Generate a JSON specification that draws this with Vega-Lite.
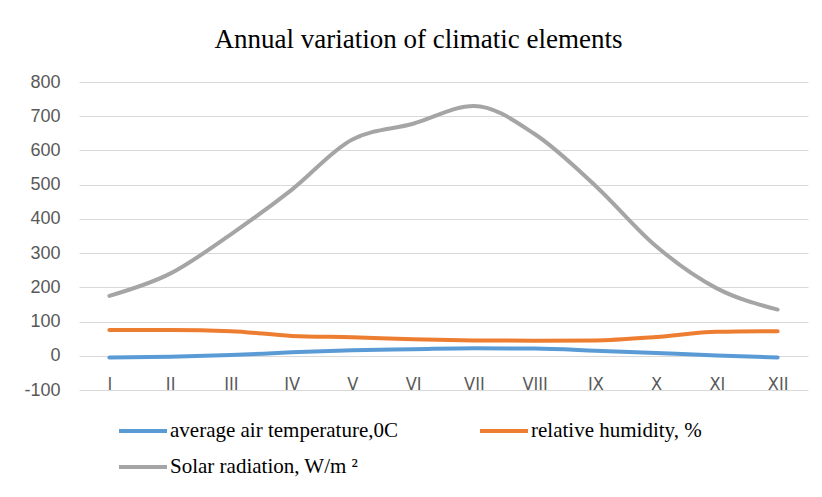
{
  "$schema": "https://vega.github.io/schema/vega-lite/v6.json",
  "width": 729,
  "height": 308,
  "autosize": {"type": "none"},
  "padding": {"left": 79, "top": 82, "right": 14, "bottom": 107},
  "background": "white",
  "title": {
    "text": "Annual variation of climatic elements",
    "font": "Liberation Serif",
    "fontSize": 27,
    "fontWeight": "normal",
    "color": "#000000",
    "anchor": "middle",
    "dx": -25,
    "offset": 19
  },
  "data": {
    "values": [
      {"month": "I", "series": "average air temperature,0C", "value": -5},
      {"month": "II", "series": "average air temperature,0C", "value": -3},
      {"month": "III", "series": "average air temperature,0C", "value": 2},
      {"month": "IV", "series": "average air temperature,0C", "value": 10},
      {"month": "V", "series": "average air temperature,0C", "value": 16},
      {"month": "VI", "series": "average air temperature,0C", "value": 19},
      {"month": "VII", "series": "average air temperature,0C", "value": 22},
      {"month": "VIII", "series": "average air temperature,0C", "value": 21},
      {"month": "IX", "series": "average air temperature,0C", "value": 15},
      {"month": "X", "series": "average air temperature,0C", "value": 8},
      {"month": "XI", "series": "average air temperature,0C", "value": 1},
      {"month": "XII", "series": "average air temperature,0C", "value": -5},
      {"month": "I", "series": "relative humidity, %", "value": 75},
      {"month": "II", "series": "relative humidity, %", "value": 75},
      {"month": "III", "series": "relative humidity, %", "value": 72},
      {"month": "IV", "series": "relative humidity, %", "value": 58},
      {"month": "V", "series": "relative humidity, %", "value": 54},
      {"month": "VI", "series": "relative humidity, %", "value": 48},
      {"month": "VII", "series": "relative humidity, %", "value": 45},
      {"month": "VIII", "series": "relative humidity, %", "value": 44},
      {"month": "IX", "series": "relative humidity, %", "value": 45},
      {"month": "X", "series": "relative humidity, %", "value": 55},
      {"month": "XI", "series": "relative humidity, %", "value": 70},
      {"month": "XII", "series": "relative humidity, %", "value": 72},
      {"month": "I", "series": "Solar radiation, W/m ²", "value": 175},
      {"month": "II", "series": "Solar radiation, W/m ²", "value": 240},
      {"month": "III", "series": "Solar radiation, W/m ²", "value": 355},
      {"month": "IV", "series": "Solar radiation, W/m ²", "value": 485},
      {"month": "V", "series": "Solar radiation, W/m ²", "value": 632},
      {"month": "VI", "series": "Solar radiation, W/m ²", "value": 678},
      {"month": "VII", "series": "Solar radiation, W/m ²", "value": 730},
      {"month": "VIII", "series": "Solar radiation, W/m ²", "value": 648},
      {"month": "IX", "series": "Solar radiation, W/m ²", "value": 497},
      {"month": "X", "series": "Solar radiation, W/m ²", "value": 320},
      {"month": "XI", "series": "Solar radiation, W/m ²", "value": 197},
      {"month": "XII", "series": "Solar radiation, W/m ²", "value": 135}
    ]
  },
  "mark": {"type": "line", "strokeWidth": 4, "interpolate": "monotone", "strokeCap": "round"},
  "encoding": {
    "x": {
      "field": "month",
      "type": "ordinal",
      "sort": null,
      "scale": {"paddingInner": 1, "paddingOuter": 0.5},
      "axis": {
        "title": null,
        "domain": false,
        "ticks": false,
        "labelAngle": 0,
        "labelFont": "DejaVu Sans Condensed",
        "labelFontSize": 18,
        "labelColor": "#595959",
        "labelPadding": -1,
        "labelBaseline": "alphabetic"
      }
    },
    "y": {
      "field": "value",
      "type": "quantitative",
      "scale": {"domain": [-100, 800], "nice": false},
      "axis": {
        "title": null,
        "values": [-100, 0, 100, 200, 300, 400, 500, 600, 700, 800],
        "labelExpr": "'' + datum.value",
        "domain": false,
        "ticks": false,
        "labelFont": "Liberation Sans",
        "labelFontSize": 18,
        "labelColor": "#595959",
        "labelPadding": 19,
        "gridColor": "#D9D9D9",
        "gridWidth": 1
      }
    },
    "color": {
      "field": "series",
      "type": "nominal",
      "sort": ["average air temperature,0C", "relative humidity, %", "Solar radiation, W/m ²"],
      "scale": {"range": ["#5B9BD5", "#ED7D31", "#A5A5A5"]},
      "legend": {
        "title": null,
        "orient": "none",
        "direction": "horizontal",
        "legendX": 38,
        "legendY": 323,
        "columns": 2,
        "columnPadding": 74,
        "rowPadding": 0,
        "symbolType": "stroke",
        "symbolSize": 2304,
        "symbolStrokeWidth": 4,
        "labelOffset": 1,
        "labelFont": "Liberation Serif",
        "labelFontSize": 21,
        "labelColor": "#000000",
        "labelLimit": 400
      }
    }
  },
  "config": {"view": {"stroke": null}}
}
